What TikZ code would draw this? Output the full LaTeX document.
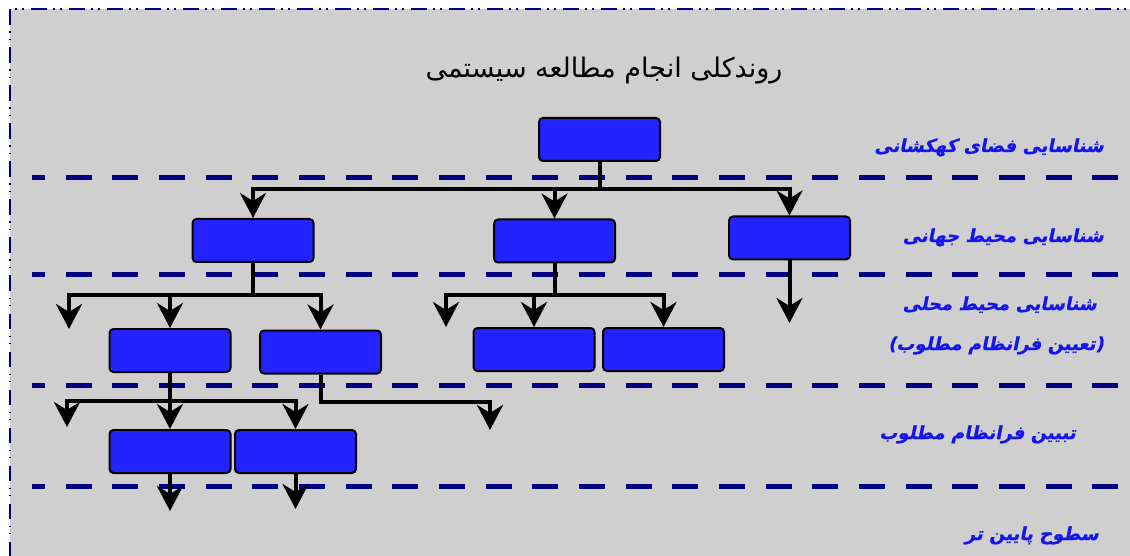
\documentclass[tikz,border=0pt]{standalone}
\usepackage{fontspec}
\usetikzlibrary{arrows.meta}
\TeXXeTstate=1
\newfontfamily\titlefont[Script=Arabic]{DejaVu Sans}
\newfontfamily\levelfont[Script=Arabic,BoldFeatures={FakeSlant=0.2,FakeBold=1}]{DejaVu Sans}

\definecolor{panel}{RGB}{207,207,207}
\definecolor{navyline}{RGB}{0,0,128}
\definecolor{boxblue}{RGB}{35,35,255}
\definecolor{labelblue}{RGB}{20,20,235}

\tikzset{
  unitbox/.style={draw=black, line width=2pt, fill=boxblue, rounded corners=4pt,
    minimum width=121pt, minimum height=43pt, inner sep=0pt},
  conn/.style={line width=4pt, line join=miter,
    -{Stealth[length=25pt,width=26pt,inset=8pt]}},
  levelsep/.style={line width=5pt, navyline, dash pattern=on 26pt off 20.67pt, dash phase=13pt},
  framebd/.style={line width=2pt, navyline,
    dash pattern=on 15.7pt off 6.3pt on 1.6pt off 5.5pt on 1.6pt off 7.3pt},
  levellabel/.style={text=labelblue, anchor=base east, inner sep=0pt,
    font=\levelfont\bfseries\fontsize{18}{22}\selectfont},
}

\begin{document}
\begin{tikzpicture}[x=1pt,y=-1pt]
  \useasboundingbox (0,0) rectangle (1130,556);
  \clip (0,0) rectangle (1130,556);
  \fill[white] (0,0) rectangle (1130,556);

  % panel and its dash-dot-dot border
  \fill[panel] (9.5,9.5) rectangle (1140,566);
  \draw[framebd] (9.5,9.5) -- (9.5,566);
  \draw[framebd, dash phase=16.5pt] (9.5,9.5) -- (1140,9.5);

  % title
  \node[anchor=base, inner sep=0pt, font=\titlefont\fontsize{27}{32}\selectfont]
    (title) at (604,78) {\beginR روندکلی انجام مطالعه سیستمی\endR};

  % level separators
  \draw[levelsep] (32,178) -- (1119,178);
  \draw[levelsep] (32,274) -- (1119,274);
  \draw[levelsep] (32,385.5) -- (1119,385.5);
  \draw[levelsep] (32,486.5) -- (1119,486.5);

  % level labels
  \node[levellabel] (l1) at (1104,152) {\beginR شناسایی فضای کهکشانی\endR};
  \node[levellabel] (l2) at (1104,242) {\beginR شناسایی محیط جهانی\endR};
  \node[levellabel] (l3) at (1097,310) {\beginR شناسایی محیط محلی\endR};
  \node[levellabel] (l4) at (1104,350) {)\beginR تعیین فرانظام مطلوب\endR(};
  \node[levellabel] (l5) at (1076,439) {\beginR تبیین فرانظام مطلوب\endR};
  \node[levellabel] (l6) at (1099,540) {\beginR سطوح پایین تر\endR};

  % boxes
  \node[unitbox] (top) at (599.5,139.5) {};
  \node[unitbox] (b2L) at (253,240.5) {};
  \node[unitbox] (b2M) at (554.5,241) {};
  \node[unitbox] (b2R) at (789.5,238) {};
  \node[unitbox] (b3A) at (170,350.5) {};
  \node[unitbox] (b3B) at (320.5,352) {};
  \node[unitbox] (b3C) at (534,349.5) {};
  \node[unitbox] (b3D) at (663.5,349.5) {};
  \node[unitbox] (b4E) at (170,451.5) {};
  \node[unitbox] (b4F) at (295.5,451.5) {};

  % junctions and open ends
  \coordinate (j1) at (599.5,189);
  \coordinate (j2) at (253,295);
  \coordinate (j3) at (554.5,295);
  \coordinate (j4) at (170,401);
  \coordinate (j5) at (320.5,402);
  \coordinate (f1) at (69,329);
  \coordinate (f2) at (446,327);
  \coordinate (f3) at (789.5,323);
  \coordinate (f4) at (67,427);
  \coordinate (f5) at (490,430);
  \coordinate (f6) at (170,511);
  \coordinate (f7) at (295.5,509);

  % connectors
  \draw[conn] (top.south) -- (j1) -| (b2L.north);
  \draw[conn] (j1) -| (b2R.north);
  \draw[conn] (b2M.north |- j1) -- (b2M.north);

  \draw[conn] (b2L.south) -- (j2) -| (b3B.north);
  \draw[conn] (j2) -| (f1);
  \draw[conn] (b3A.north |- j2) -- (b3A.north);

  \draw[conn] (b2M.south) -- (j3) -| (b3D.north);
  \draw[conn] (j3) -| (f2);
  \draw[conn] (b3C.north |- j3) -- (b3C.north);

  \draw[conn] (b2R.south) -- (f3);

  \draw[conn] (b3A.south) -- (b4E.north);
  \draw[conn] (j4) -| (f4);
  \draw[conn] (j4) -| (b4F.north);

  \draw[conn] (b3B.south) -- (j5) -| (f5);

  \draw[conn] (b4E.south) -- (f6);
  \draw[conn] (b4F.south) -- (f7);
\end{tikzpicture}
\end{document}
